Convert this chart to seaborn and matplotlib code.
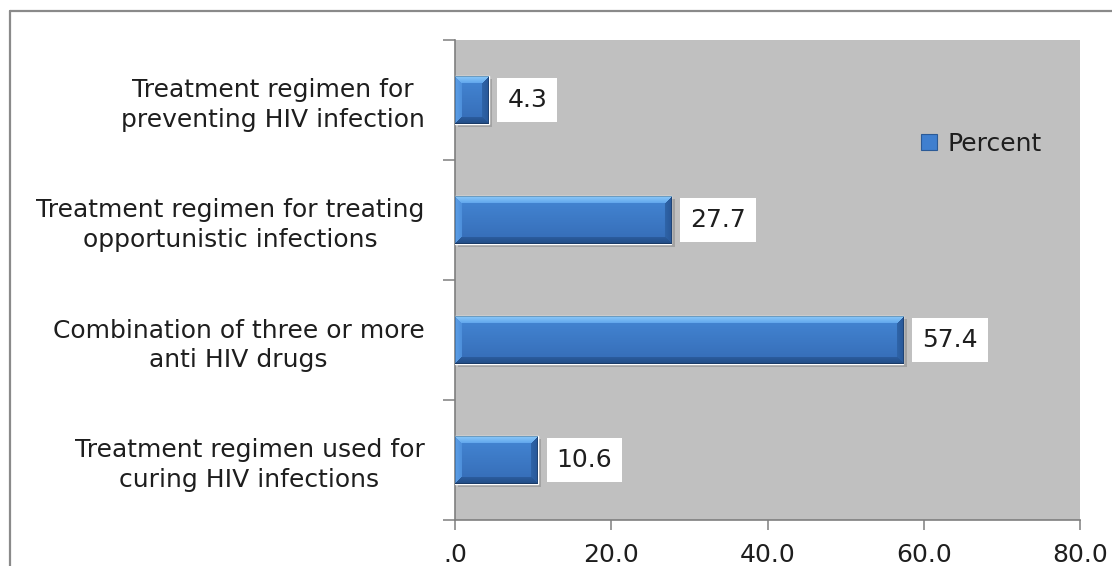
import numpy as np
import pandas as pd
import matplotlib
matplotlib.use("Agg")
import matplotlib.pyplot as plt
import matplotlib.patheffects as pe
from matplotlib.lines import Line2D
from matplotlib.patches import Patch
from matplotlib.ticker import FixedLocator
import seaborn as sns

categories = [
    "Treatment regimen for\npreventing HIV infection",
    "Treatment regimen for treating\nopportunistic infections",
    "Combination of three or more\nanti HIV drugs",
    "Treatment regimen used for\ncuring HIV infections",
]
percent = [4.3, 27.7, 57.4, 10.6]
x_ticks = [0, 20, 40, 60, 80]
x_tick_labels = [".0", "20.0", "40.0", "60.0", "80.0"]
series_name = "Percent"

sns.set_theme(style="white")
plt.rcParams["font.family"] = ["DejaVu Sans"]
FS = 18
TXT = "#1e1e1e"

df = pd.DataFrame({"category": categories, "value": percent})

W, H, DPI = 1112, 566, 100
fig = plt.figure(figsize=(W / DPI, H / DPI), dpi=DPI)
ax = fig.add_axes([455 / W, 1 - 520 / H, 625 / W, 480 / H])
ax.set_facecolor("#c0c0c0")

sns.barplot(data=df, y="category", x="value", orient="h", width=0.4,
            color="#3f7fcf", ax=ax, zorder=3, saturation=1)

ax.set_xlim(0, 80)
ax.set_ylim(3.5, -0.5)
ax.set_xlabel("")
ax.set_ylabel("")

# axes styling
for side in ("top", "right"):
    ax.spines[side].set_visible(False)
for side in ("left", "bottom"):
    ax.spines[side].set_color("#7f7f7f")
    ax.spines[side].set_linewidth(1.2)

ax.xaxis.set_major_locator(FixedLocator(x_ticks))
ax.set_xticklabels(x_tick_labels, fontsize=FS, color=TXT)
ax.tick_params(axis="x", which="major", direction="out", length=7, width=1.1,
               color="#7f7f7f", pad=9.5, bottom=True)

ax.yaxis.set_minor_locator(FixedLocator([-0.5, 0.5, 1.5, 2.5, 3.5]))
ax.tick_params(axis="y", which="major", length=0, pad=22)
ax.tick_params(axis="y", which="minor", direction="out", length=9, width=1.1,
               color="#7f7f7f", left=True)
for lab in ax.get_yticklabels():
    lab.set_fontsize(FS)
    lab.set_color(TXT)
    lab.set_multialignment("center")
    lab.set_linespacing(1.27)

fig.canvas.draw()


def bevel_image(w, h, b=7):
    """RGB image of a bevelled bar face: light top/left edges, dark bottom/right edges."""
    w = max(int(round(w)), 2)
    h = max(int(round(h)), 2)
    yy, xx = np.mgrid[0:h, 0:w].astype(float)
    t = yy / max(h - 1, 1)
    top_c = np.array([0x44, 0x86, 0xd4]) / 255
    bot_c = np.array([0x35, 0x6c, 0xb6]) / 255
    img = top_c[None, None, :] * (1 - t[..., None]) + bot_c[None, None, :] * t[..., None]
    d = np.stack([yy, h - 1 - yy, xx, w - 1 - xx])
    idx = np.argmin(d, axis=0)
    dmin = np.min(d, axis=0)
    s = (dmin / b)[..., None]
    bev_out = [np.array([0x8a, 0xc8, 0xf8]) / 255,   # top
               np.array([0x22, 0x4c, 0x85]) / 255,   # bottom
               np.array([0x5c, 0x9e, 0xe6]) / 255,   # left
               np.array([0x28, 0x58, 0x98]) / 255]   # right
    bev_in = [np.array([0x5e, 0xa4, 0xec]) / 255,
              np.array([0x2c, 0x5e, 0xa0]) / 255,
              np.array([0x4c, 0x8e, 0xda]) / 255,
              np.array([0x30, 0x66, 0xaa]) / 255]
    mask = dmin < b
    for k in range(4):
        m = mask & (idx == k)
        col = bev_out[k][None, None, :] * (1 - s) + bev_in[k][None, None, :] * s
        img[m] = col[m]
    edge = dmin < 1
    img[edge] = img[edge] * 0.78
    return img


renderer = fig.canvas.get_renderer()
for patch in ax.patches:
    x0, y0 = patch.get_x(), patch.get_y()
    pw, ph = patch.get_width(), patch.get_height()
    bb = patch.get_window_extent(renderer)
    img = bevel_image(bb.width, bb.height)
    patch.set_path_effects([pe.SimplePatchShadow(offset=(2.5, -2.5), shadow_rgbFace="#6a6a6a", alpha=0.35),
                            pe.Normal()])
    ax.imshow(img, extent=(x0, x0 + pw, y0 + ph, y0), origin="upper",
              aspect="auto", zorder=4, interpolation="bilinear")

ax.set_xlim(0, 80)
ax.set_ylim(3.5, -0.5)

# value labels in white boxes
for i, v in enumerate(percent):
    ax.annotate(f"{v:.1f}", xy=(v, i), xytext=(13.5, 0), textcoords="offset points",
                ha="left", va="center", fontsize=FS, color=TXT, zorder=6,
                bbox=dict(boxstyle="square,pad=0.4", fc="white", ec="none"))

# legend
handle = Patch(facecolor="#3f7fcf", edgecolor="#2b5a96", linewidth=0.8)
ax.legend([handle], [series_name], loc="center left",
          bbox_to_anchor=((921 - 455) / 625, (520 - 144) / 480),
          frameon=False, fontsize=FS, handlelength=0.65, handleheight=0.6,
          handletextpad=0.4, borderpad=0, borderaxespad=0,
          labelcolor=TXT)

# outer chart border
bx, by = 10 / W, 1 - 11 / H
fig.add_artist(Line2D([bx, bx], [0, by], transform=fig.transFigure, color="#8a8a8a", lw=1.6))
fig.add_artist(Line2D([bx, 1], [by, by], transform=fig.transFigure, color="#8a8a8a", lw=1.6))

fig.savefig("out.png", dpi=DPI, facecolor="white")
